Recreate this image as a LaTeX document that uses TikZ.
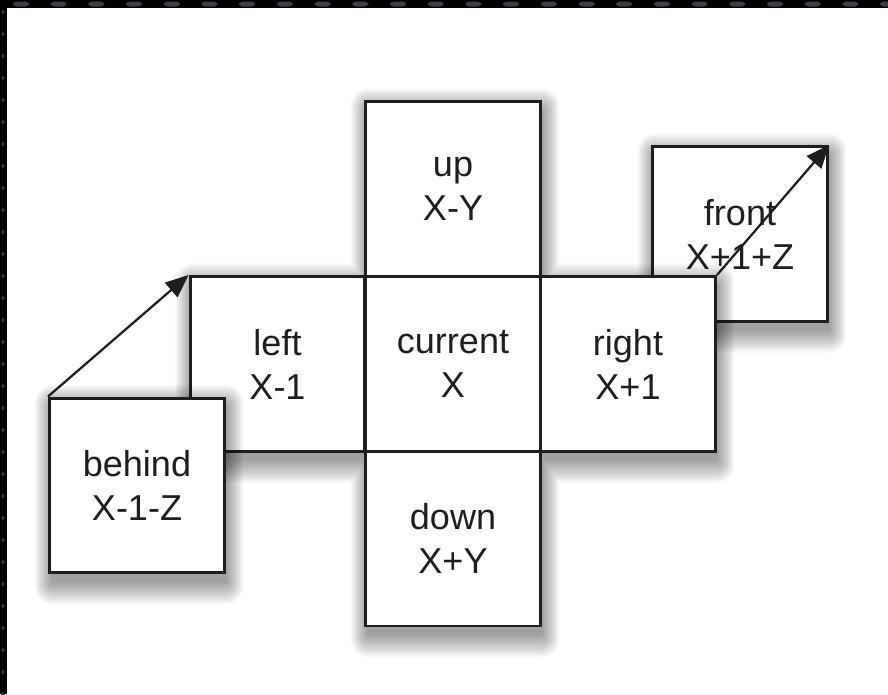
\documentclass[tikz,border=0pt]{standalone}
\usepackage{fontspec}
\setmainfont{Liberation Sans}
\usetikzlibrary{arrows.meta}
\definecolor{ink}{HTML}{1E1E1E}
\definecolor{sprocket}{HTML}{3C3F46}
\tikzset{
  face/.style={draw=ink, line width=0.06cm, fill=white, text=ink,
    minimum width=3.5cm, minimum height=3.5cm, inner sep=0pt,
    align=center, font=\fontsize{20.5}{25}\selectfont},
  link/.style={draw=ink, line width=0.045cm,
    -{Triangle[length=0.46cm, width=0.38cm]}},
}
% soft shadow under 175 x 175 faces centred at the listed points;
% each step fills the union of the enlarged squares once
\newcommand\castshadow[1]{%
  \foreach \k in {0,...,11}
    \fill[black, fill opacity=0.034, rounded corners=0.2pt+\k*0.9pt]
      \foreach \cx/\cy in {#1} {
        (\cx-87.5-1.5*\k+2, \cy-87.5-2*\k+9) rectangle
        (\cx+87.5+1.5*\k+2, \cy+87.5+2*\k+9)
      };%
}
\begin{document}
\begin{tikzpicture}[x=0.02cm, y=-0.02cm]
  \useasboundingbox (0,0) rectangle (888,694);
  % page and film-strip edges
  \fill[white] (0,0) rectangle (888,694);
  \fill[black] (0,0) rectangle (888,8);
  \fill[black] (0,0) rectangle (7,694);
  \foreach \i in {0,...,23}
    \fill[sprocket, rounded corners=2pt] (13+37.7*\i,1.5) rectangle ++(16,5);
  \foreach \j in {0,...,31}
    \fill[sprocket!80!black, rounded corners=1pt] (1,10+22*\j) rectangle ++(4,4);

  % the face lying behind the cross
  \castshadow{740/234}
  \node[face] (front) at (740,234) {front\\X+1+Z};

  % the cross of faces
  \castshadow{453/189, 277.5/364, 453/364, 628/364, 453/538.5}
  \node[face] (up)      at (453,189)   {up\\X-Y};
  \node[face] (left)    at (277.5,364) {left\\X-1};
  \node[face] (current) at (453,364)   {current\\X};
  \node[face] (right)   at (628,364)   {right\\X+1};
  \node[face] (down)    at (453,538.5) {down\\X+Y};

  \draw[link] (right.north east) -- (front.north east);

  % the face in front of the cross
  \castshadow{137/485.5}
  \node[face] (behind) at (137,485.5) {behind\\X-1-Z};
  \draw[link] (behind.north west) -- (left.north west);
\end{tikzpicture}
\end{document}
